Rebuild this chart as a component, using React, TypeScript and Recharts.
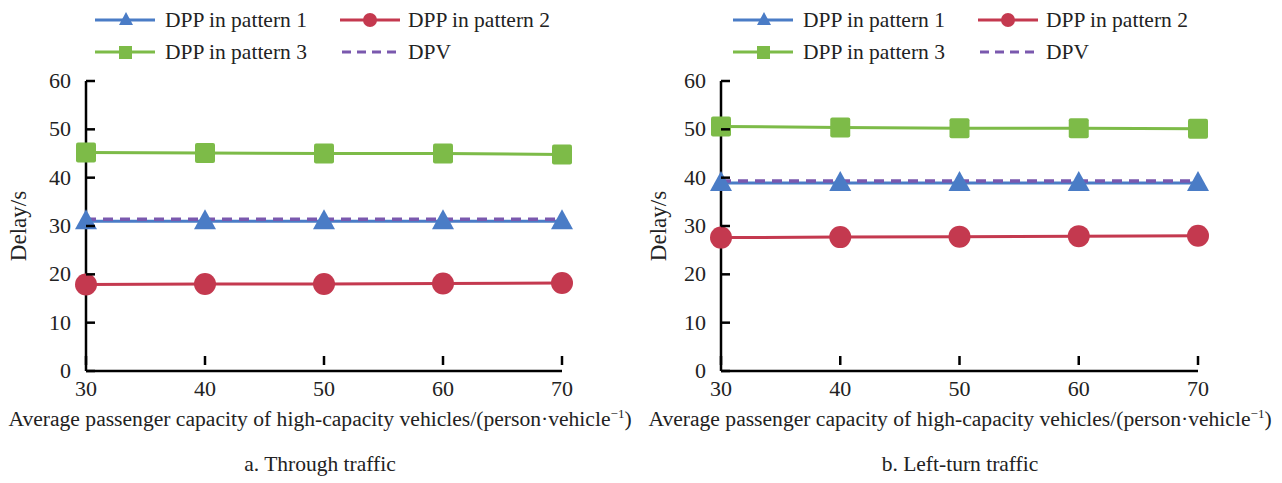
import React from 'react';
import { LineChart, Line, XAxis, YAxis } from 'recharts';

const capacities = [30, 40, 50, 60, 70];
const xTicks = [30, 40, 50, 60, 70];
const yTicks = [0, 10, 20, 30, 40, 50, 60];

const throughP1 = [31.0, 31.0, 31.0, 31.0, 31.0];
const throughP2 = [17.9, 18.0, 18.0, 18.1, 18.2];
const throughP3 = [45.2, 45.1, 45.0, 45.0, 44.8];
const throughDPV = [31.4, 31.4, 31.4, 31.4, 31.4];

const leftP1 = [38.9, 38.9, 38.9, 38.9, 38.9];
const leftP2 = [27.6, 27.7, 27.8, 27.9, 28.0];
const leftP3 = [50.6, 50.4, 50.2, 50.2, 50.1];
const leftDPV = [39.3, 39.3, 39.3, 39.3, 39.3];

const seriesNames = ['DPP in pattern 1', 'DPP in pattern 2', 'DPP in pattern 3', 'DPV'];
const xLabel = 'Average passenger capacity of high-capacity vehicles/(person·vehicle';
const titles = ['a. Through traffic', 'b. Left-turn traffic'];

const BLUE = '#4A7CC6';
const RED = '#C4394F';
const GREEN = '#7DBB48';
const PURPLE = '#7A58AE';
const FONT = '"Liberation Serif", "Times New Roman", serif';

const build = (p1: number[], p2: number[], p3: number[], dpv: number[]) =>
  capacities.map((c, i) => ({ x: c, p1: p1[i], p2: p2[i], p3: p3[i], dpv: dpv[i] }));

const throughData = build(throughP1, throughP2, throughP3, throughDPV);
const leftData = build(leftP1, leftP2, leftP3, leftDPV);

const Triangle = (props: any) => {
  const { cx, cy } = props;
  if (cx == null || cy == null) return null;
  const size = 11;
  const h = 20;
  return (
    <polygon
      points={`${cx},${cy - h * 0.6} ${cx - size},${cy + h * 0.4} ${cx + size},${cy + h * 0.4}`}
      fill={BLUE}
    />
  );
};
const Circle = (props: any) => {
  const { cx, cy } = props;
  if (cx == null || cy == null) return null;
  return <circle cx={cx} cy={cy} r={11} fill={RED} />;
};
const Square = (props: any) => {
  const { cx, cy } = props;
  if (cx == null || cy == null) return null;
  const s = 10;
  return <rect x={cx - s} y={cy - s} width={2 * s} height={2 * s} rx={2} fill={GREEN} />;
};

const YTick = (props: any) => {
  const { x, y, payload } = props;
  return (
    <g>
      <line x1={x + 6} x2={x + 15} y1={y} y2={y} stroke="#000" strokeWidth={2.5} />
      <text x={x - 9} y={y} dy={7} textAnchor="end" fontFamily={FONT} fontSize={22} fill="#222">
        {payload.value}
      </text>
    </g>
  );
};
const XTick = (props: any) => {
  const { x, y, payload } = props;
  return (
    <g>
      <line x1={x} x2={x} y1={y - 6} y2={y - 15} stroke="#000" strokeWidth={2.5} />
      <text x={x} y={y} dy={25} textAnchor="middle" fontFamily={FONT} fontSize={22} fill="#222">
        {payload.value}
      </text>
    </g>
  );
};

const LegendItem = ({ kind, label, left, top }: any) => {
  const color = kind === 0 ? BLUE : kind === 1 ? RED : kind === 2 ? GREEN : PURPLE;
  return (
    <div style={{ position: 'absolute', left, top, display: 'flex', alignItems: 'center', height: 30 }}>
      <svg width={62} height={24} style={{ display: 'block' }}>
        {kind === 3 ? (
          <line x1={2} x2={56} y1={12} y2={12} stroke={color} strokeWidth={3} strokeDasharray="9 6" />
        ) : (
          <line x1={0} x2={60} y1={12} y2={12} stroke={color} strokeWidth={3} />
        )}
        {kind === 0 && <polygon points="31,4 24,17 38,17" fill={BLUE} />}
        {kind === 1 && <circle cx={30} cy={12} r={7} fill={RED} />}
        {kind === 2 && <rect x={24} y={6} width={13} height={13} fill={GREEN} />}
      </svg>
      <span style={{ fontFamily: FONT, fontSize: 21.5, color: '#222', marginLeft: kind % 2 === 1 ? 6 : 8, whiteSpace: 'nowrap' }}>
        {label}
      </span>
    </div>
  );
};

const Panel = ({ data, offsetX, marginLeft, marginRight, title, legendX }: any) => (
  <div style={{ position: 'absolute', left: offsetX, top: 0, width: 640, height: 483 }}>
    <LineChart
      width={640}
      height={483}
      data={data}
      margin={{ top: 81, right: marginRight, bottom: 82, left: marginLeft }}
    >
      <XAxis
        dataKey="x"
        type="number"
        domain={[30, 70]}
        ticks={xTicks}
        height={30}
        tickSize={0}
        tickMargin={0}
        tickLine={false}
        axisLine={{ stroke: '#000', strokeWidth: 2.5 }}
        tick={<XTick />}
      />
      <YAxis
        type="number"
        domain={[0, 60]}
        ticks={yTicks}
        width={30}
        tickSize={0}
        tickMargin={6}
        tickLine={false}
        axisLine={{ stroke: '#000', strokeWidth: 2.5 }}
        tick={<YTick />}
      />
      <Line dataKey="p3" stroke={GREEN} strokeWidth={3} dot={<Square />} isAnimationActive={false} />
      <Line dataKey="p2" stroke={RED} strokeWidth={3} dot={<Circle />} isAnimationActive={false} />
      <Line dataKey="p1" stroke={BLUE} strokeWidth={3} dot={<Triangle />} isAnimationActive={false} />
      <Line dataKey="dpv" stroke={PURPLE} strokeWidth={3.5} strokeDasharray="10 7" dot={false} isAnimationActive={false} />
    </LineChart>
    <LegendItem kind={0} label={seriesNames[0]} left={legendX} top={5} />
    <LegendItem kind={1} label={seriesNames[1]} left={legendX + 245} top={5} />
    <LegendItem kind={2} label={seriesNames[2]} left={legendX} top={37} />
    <LegendItem kind={3} label={seriesNames[3]} left={legendX + 245} top={37} />
    <div
      style={{
        position: 'absolute', left: 8, top: 226, transform: 'translate(-50%, -50%) rotate(-90deg)',
        fontFamily: FONT, fontSize: 23, color: '#222', whiteSpace: 'nowrap', marginLeft: 11,
      }}
    >
      Delay/s
    </div>
    <div
      style={{
        position: 'absolute', left: 0, width: 640, top: 406, textAlign: 'center',
        fontFamily: FONT, fontSize: 21.6, color: '#222', whiteSpace: 'nowrap',
      }}
    >
      {xLabel}
      <sup style={{ fontSize: 13 }}>−1</sup>)
    </div>
    <div
      style={{
        position: 'absolute', left: 0, width: 640, top: 452, textAlign: 'center',
        fontFamily: FONT, fontSize: 21.5, color: '#222', whiteSpace: 'nowrap',
      }}
    >
      {title}
    </div>
  </div>
);

export default function App() {
  return (
    <div style={{ position: 'absolute', left: 0, top: 0, width: 1282, height: 483, background: '#fff' }}>
      <Panel data={throughData} offsetX={0} marginLeft={56} marginRight={78} title={titles[0]} legendX={95} />
      <Panel data={leftData} offsetX={640} marginLeft={51} marginRight={82} title={titles[1]} legendX={93} />
    </div>
  );
}
